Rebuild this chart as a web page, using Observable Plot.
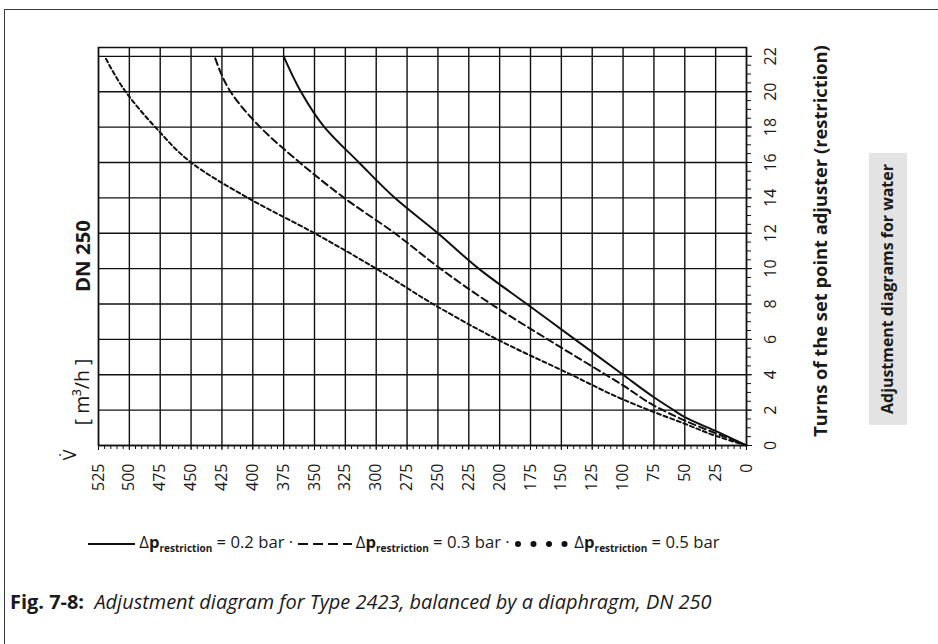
<!DOCTYPE html>
<html><head><meta charset="utf-8">
<script src="https://cdn.jsdelivr.net/npm/d3@7"></script>
<script src="https://cdn.jsdelivr.net/npm/@observablehq/plot@0.6"></script>
<style>
body{margin:0;background:#fff;font-family:"Open Sans",sans-serif;color:#1a1a1a;}
#page{position:relative;width:938px;height:644px;overflow:hidden;background:#fff;}
#frame{position:absolute;left:4px;top:9px;width:960px;height:700px;border-top:1.5px solid #3a3a3a;border-left:1.5px solid #3a3a3a;}
#chart{position:absolute;left:0;top:0;}
.rot{position:absolute;white-space:nowrap;transform:translate(-50%,-50%) rotate(-90deg);line-height:1;}
.b{font-weight:700;}
#greybox{position:absolute;left:869px;top:153px;width:38px;height:272px;background:#e3e3e3;}
#legend{position:absolute;left:88px;top:534px;white-space:nowrap;line-height:1;font-size:17px;}
#legend svg{vertical-align:middle;}
#legend sub{font-size:0.6em;font-weight:700;vertical-align:-0.35em;}
#caption{position:absolute;left:10px;top:590px;white-space:nowrap;line-height:1.2;font-size:17px;}
</style>
</head><body>
<div id="page">
  <div id="frame"></div>
  <div id="chart"></div>
  <div id="greybox"></div>
  <div class="rot b fit" data-w="72" style="left:82px;top:256px;font-size:17px;">DN 250</div>
  <div class="rot fit" data-w="66" style="left:82px;top:392px;font-size:15px;">[ m³/h ]</div>
  <div class="rot" style="left:69px;top:455px;font-size:18px;">V̇</div>
  <div class="rot b fit" data-w="392" style="left:820px;top:241px;font-size:15px;">Turns of the set point adjuster (restriction)</div>
  <div class="rot b fit" data-w="250" style="left:888px;top:289px;font-size:14px;">Adjustment diagrams for water</div>
  <div id="legend" class="fit" data-w="629"></div>
  <div id="caption" class="fit" data-w="702"><b>Fig. 7-8:</b>&nbsp; <i>Adjustment diagram for Type 2423, balanced by a diaphragm, DN 250</i></div>
</div>
<script>
// ---- data ----
const flowTicks = [0,25,50,75,100,125,150,175,200,225,250,275,300,325,350,375,400,425,450,475,500,525];
const turnTicks = [0,2,4,6,8,10,12,14,16,18,20,22];
const flowMinor = d3.range(0, 526, 5);
const turnMinor = d3.range(0, 22.01, 0.5);

const seriesNames = ["0.2 bar", "0.3 bar", "0.5 bar"];
// Δp restriction = 0.2 bar (solid)
const turns02 = [0, 0.85, 1.6, 2, 2.73, 4, 6, 8, 10, 12, 14, 16, 18, 20, 22];
const flow02  = [0, 26, 50, 59, 75, 100, 139, 178, 217, 250, 285, 314, 342, 361, 375];
// Δp restriction = 0.3 bar (long dashes)
const turns03 = [0, 0.72, 1.41, 2.26, 3.4, 4, 6, 8, 10, 12, 14, 16, 18, 20, 22];
const flow03  = [0, 26, 50, 75, 100, 114, 161, 207, 248, 285, 326, 362, 394, 418, 431];
// Δp restriction = 0.5 bar (short dashes)
const turns05 = [0, 0.57, 1.23, 1.89, 2.6, 4, 6, 8, 10, 12, 14, 16, 18, 20, 22];
const flow05  = [0, 26, 50, 75, 100, 142, 202, 254, 300, 350, 404, 450, 479, 503, 520];

const toRows = (flows, turns) => flows.map((f, i) => ({flow: f, turns: turns[i]}));
const rows02 = toRows(flow02, turns02);
const rows03 = toRows(flow03, turns03);
const rows05 = toRows(flow05, turns05);

const ink = "#111";
const chart = Plot.plot({
  width: 938, height: 510,
  marginLeft: 98, marginRight: 192, marginTop: 47, marginBottom: 65,
  x: {domain: [0, 525], reverse: true},
  y: {domain: [0, 22.5]},
  style: {fontFamily: "'Open Sans', sans-serif", fontSize: "16px", color: "#1a1a1a", background: "transparent"},
  marks: [
    Plot.gridX(flowTicks, {stroke: ink, strokeOpacity: 1, strokeWidth: 1.4}),
    Plot.gridY(turnTicks, {stroke: ink, strokeOpacity: 1, strokeWidth: 1.4}),
    Plot.frame({stroke: ink, strokeWidth: 1.5}),
    Plot.axisX(flowMinor, {tickSize: 4, tickFormat: () => "", label: null, stroke: ink}),
    Plot.axisX(flowTicks, {tickSize: 5, tickRotate: -90, tickPadding: 13, label: null, stroke: ink}),
    Plot.axisY(turnMinor, {anchor: "right", tickSize: 4, tickFormat: () => "", label: null, stroke: ink}),
    Plot.axisY(turnTicks, {anchor: "right", tickSize: 5, tickFormat: () => "", label: null, stroke: ink}),
    Plot.text(turnTicks, {y: d => d, text: d => String(d), frameAnchor: "right", dx: 24, rotate: -90,
      textAnchor: "middle", lineAnchor: "middle", fill: "#1a1a1a", fontSize: 16}),
    Plot.line(rows02, {x: "flow", y: "turns", stroke: "#111", strokeWidth: 2, curve: "monotone-y"}),
    Plot.line(rows03, {x: "flow", y: "turns", stroke: "#111", strokeWidth: 2, strokeDasharray: "7,4", curve: "monotone-y"}),
    Plot.line(rows05, {x: "flow", y: "turns", stroke: "#111", strokeWidth: 2, strokeDasharray: "4,3", curve: "monotone-y"})
  ]
});
document.getElementById("chart").appendChild(chart);

// legend
const sym = {
  "0.2 bar": '<svg width="47" height="10"><line x1="0" y1="5" x2="47" y2="5" stroke="#111" stroke-width="2"/></svg>',
  "0.3 bar": '<svg width="54" height="10"><line x1="0" y1="5" x2="54" y2="5" stroke="#111" stroke-width="2" stroke-dasharray="10,5"/></svg>',
  "0.5 bar": '<svg width="56" height="10">' + [0,1,2,3].map(i => `<circle cx="${4+i*15.5}" cy="5" r="3" fill="#111"/>`).join("") + '</svg>'
};
document.getElementById("legend").innerHTML = seriesNames.map((s, i) =>
  `${sym[s]} Δ<b>p</b><sub>restriction</sub> = ${s}` + (i < seriesNames.length - 1 ? " · " : "")
).join("");

// fit text lengths
document.querySelectorAll(".fit").forEach(el => {
  const w = +el.dataset.w;
  const fs = parseFloat(getComputedStyle(el).fontSize);
  const cur = el.offsetWidth;
  if (cur > 0) el.style.fontSize = (fs * w / cur).toFixed(2) + "px";
});
</script>
</body></html>
